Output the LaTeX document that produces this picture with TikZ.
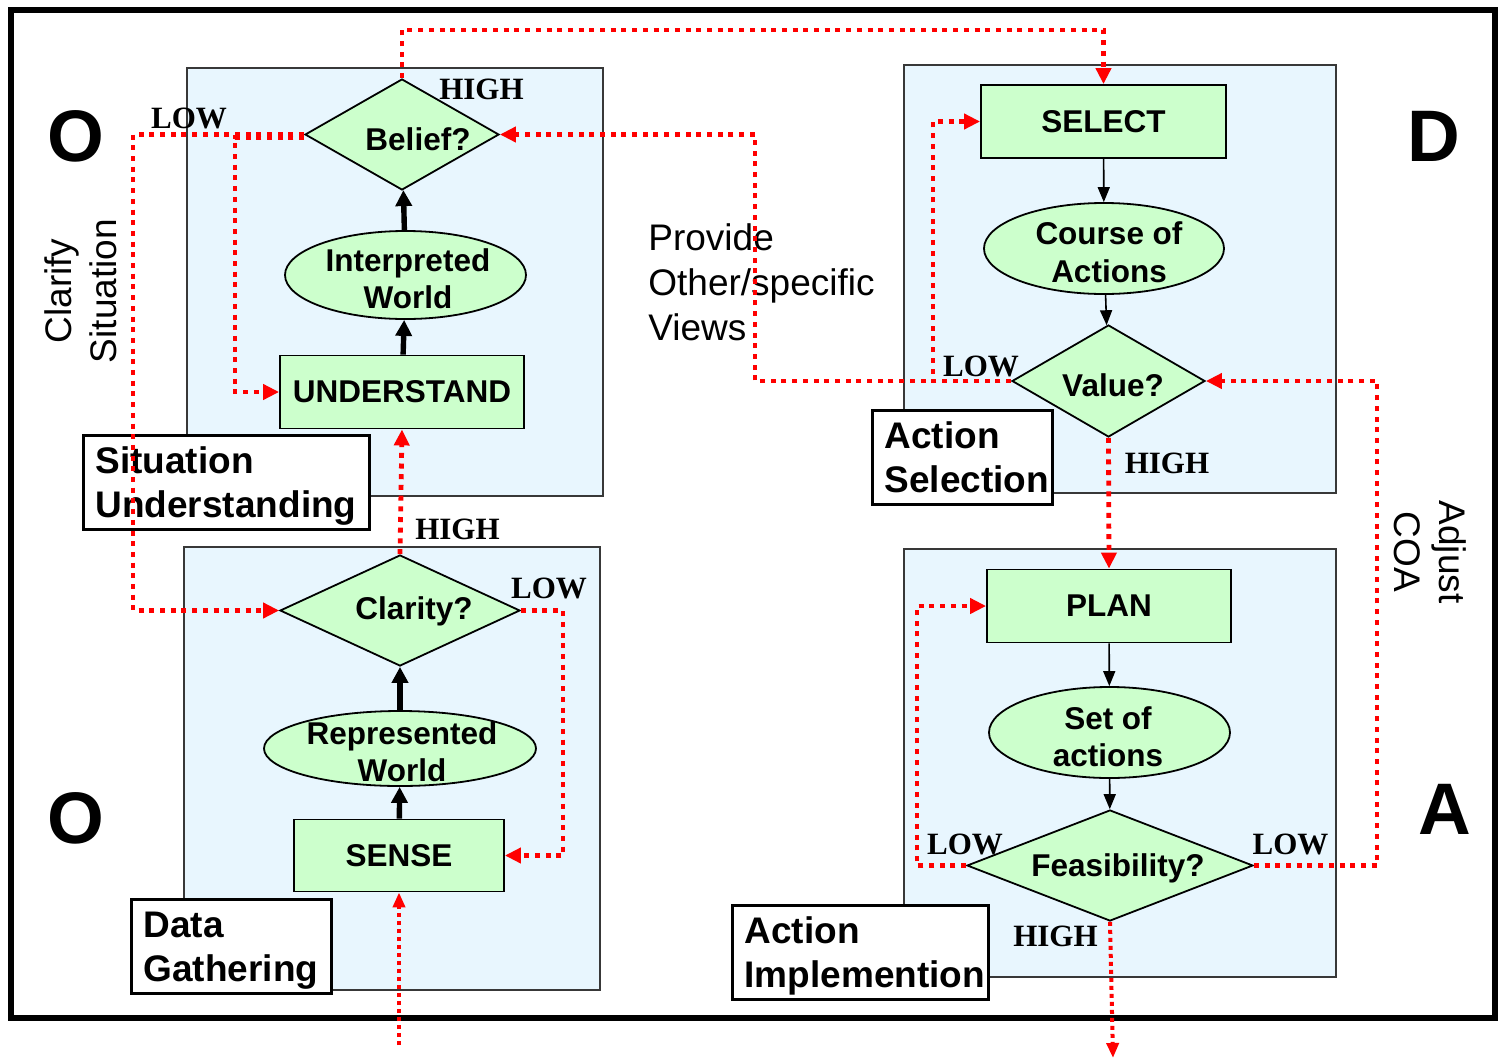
\documentclass[tikz,border=0pt]{standalone}
\usepackage{fontspec}
\setmainfont{Liberation Serif}
\setsansfont{Liberation Sans}
\usetikzlibrary{shapes.geometric,arrows.meta,calc}

\definecolor{panelblue}{HTML}{E8F6FE}
\definecolor{nodegreen}{HTML}{CCFFCC}
\definecolor{loopred}{HTML}{FF0000}
\definecolor{panelgray}{HTML}{383838}

% a little extra room above the first caption line
\newcommand\captop{\rule{0pt}{17pt}}

\begin{document}
\begin{tikzpicture}[x=0.5pt,y=-0.5pt,
  panel/.style={fill=panelblue,draw=panelgray,line width=1pt},
  stagebox/.style={rectangle,draw=black,line width=1.5pt,fill=white,anchor=north west,
    inner xsep=6pt,inner ysep=0pt,minimum height=47pt,align=left,
    font=\sffamily\bfseries\fontsize{18.5}{22}\selectfont},
  stepbox/.style={rectangle,draw=black,line width=0.9pt,fill=nodegreen,inner sep=0pt,
    font=\sffamily\bfseries\fontsize{15.75}{18.75}\selectfont},
  worldell/.style={ellipse,draw=black,line width=0.9pt,fill=nodegreen,inner sep=0pt},
  query/.style={diamond,draw=black,line width=0.9pt,fill=nodegreen,inner sep=0pt},
  ntext/.style={inner sep=0pt,align=center,font=\sffamily\bfseries\fontsize{15.75}{18.75}\selectfont},
  level/.style={inner sep=0pt,font=\rmfamily\bfseries\fontsize{15.5}{18}\selectfont},
  phase/.style={inner sep=0pt,font=\sffamily\bfseries\fontsize{36.5}{40}\selectfont},
  sidetext/.style={inner sep=0pt,align=center,font=\sffamily\fontsize{18.5}{22.5}\selectfont},
  heavy/.style={draw=black,line width=2.7pt,-{Triangle[length=8pt,width=8pt]}},
  light/.style={draw=black,line width=0.8pt,-{Triangle[length=7.5pt,width=6pt]}},
  flow/.style={draw=loopred,line width=2.4pt,dash pattern=on 2.5pt off 2.85pt,
    -{Triangle[length=8pt,width=7.5pt]}},
  flowthin/.style={draw=loopred,line width=2pt,dash pattern=on 2pt off 2pt,
    -{Triangle[length=7.5pt,width=6pt]}}
]
\useasboundingbox (0,0) rectangle (1501,1061);

% stage panels
\path[panel] (187,68) rectangle (603,496);
\path[panel] (184,547) rectangle (600,990);
\path[panel] (904,65) rectangle (1336,493);
\path[panel] (904,549) rectangle (1336,977);

% outer frame
\draw[line width=2.8pt] (11,10) rectangle (1495,1018);

% stage captions
\node[stagebox,text width=131pt] (situ) at (82,434) {\captop Situation\\Understanding};
\node[stagebox,text width=88pt] (datag) at (130,898) {\captop Data\\Gathering};
\node[stagebox,text width=78pt] (actsel) at (871,409) {Action\\Selection};
\node[stagebox,text width=116pt] (actimp) at (731,904) {\captop Action\\Implemention};

% observe: situation understanding
\node[stepbox,minimum width=122pt,minimum height=36.5pt] (understand) at (402,392) {UNDERSTAND};
\node[worldell,minimum width=120.5pt,minimum height=44pt] (interp) at (405.5,275) {};
\node[ntext] (interp-t) at (408,278.5) {Interpreted\\World};
\node[query,minimum width=97pt,minimum height=55.5pt] (belief) at (402,134.5) {};
\node[ntext] (belief-t) at (418,139) {Belief?};

% observe: data gathering
\node[stepbox,minimum width=105pt,minimum height=36pt] (sense) at (399,855.5) {SENSE};
\node[worldell,minimum width=136pt,minimum height=37.5pt] (repr) at (400,748.5) {};
\node[ntext] (repr-t) at (402,751.5) {Represented\\World};
\node[query,minimum width=120pt,minimum height=55.5pt] (clarity) at (400,610.5) {};
\node[ntext] (clarity-t) at (414,611) {Clarity?};

% decide: action selection
\node[stepbox,minimum width=122.5pt,minimum height=36.5pt] (select) at (1103.5,121.5) {SELECT};
\node[worldell,minimum width=120pt,minimum height=45.5pt] (course) at (1104,248.5) {};
\node[ntext] (course-t) at (1109,252) {Course of\\Actions};
\node[query,minimum width=96.5pt,minimum height=56pt] (value) at (1108.5,381) {};
\node[ntext] (value-t) at (1113,385) {Value?};

% act: action implementation
\node[stepbox,minimum width=122pt,minimum height=36.5pt] (plan) at (1109,606) {PLAN};
\node[worldell,minimum width=120.5pt,minimum height=45.5pt] (setact) at (1109.5,732.5) {};
\node[ntext] (setact-t) at (1108,736.5) {Set of\\actions};
\node[query,minimum width=143pt,minimum height=55.5pt] (feas) at (1110,865.5) {};
\node[ntext] (feas-t) at (1118,868) {Feasibility?};

% phase letters and side notes
\node[phase] (o-top) at (75.5,136) {O};
\node[phase] (o-bottom) at (75.5,818) {O};
\node[phase] (d-top) at (1434,136) {D};
\node[phase] (a-bottom) at (1444.5,809.5) {A};
\node[sidetext,rotate=90] (clarify) at (80.5,291) {Clarify\\Situation};
\node[sidetext,rotate=-90] (adjust) at (1430.5,552) {Adjust\\COA};
\node[sidetext,anchor=west,align=left] (provide) at (648,282) {Provide\\Other/specific\\Views};

% forward flow inside each stage
\draw[heavy] (understand) -- (interp);
\draw[heavy] (interp) -- (belief);
\draw[heavy] (sense) -- (repr);
\draw[heavy] (repr) -- (clarity);
\draw[light] (select) -- (course);
\draw[light] (course) -- (value);
\draw[light] (plan) -- (setact);
\draw[light] (setact) -- (feas);

% turning points of the feedback loops
\coordinate (clarifyx) at (133,0);
\coordinate (understandx) at (235,0);
\coordinate (topy) at (0,30);
\coordinate (providex) at (755,0);
\coordinate (selectx) at (933,0);
\coordinate (adjustx) at (1377,0);
\coordinate (planx) at (917,0);
\coordinate (sensex) at (563,0);
\coordinate (datain) at (399,1045);
\coordinate (actout) at (1113,1058);

% decision outcomes
\draw[flow] (belief.north) -- (belief.north |- topy) -| (select.north);
\draw[flow] (belief.west) -- (belief.west -| clarifyx) |- (clarity.west);
\draw[flow] ([yshift=-1.5pt]belief.west) -| (understand.west -| understandx) -- (understand.west);
\draw[flow] (value.west) -- (value.west -| providex) |- (belief.east);
\draw[flow] (value.west) -- (value.west -| selectx) |- (select.west);
\draw[flow] (value.south) -- (plan.north);
\draw[flow] (feas.east) -- (feas.east -| adjustx) |- (value.east);
\draw[flow] (feas.west) -- (feas.west -| planx) |- (plan.west);
\draw[flowthin] (feas.south) -- (actout);
\draw[flow] (clarity.north) -- (understand.south);
\draw[flow] (clarity.east) -- (clarity.east -| sensex) |- (sense.east);
\draw[flowthin] (datain) -- (sense.south);

% outcome levels
\node[level] (hi-belief) at (481.5,89) {HIGH};
\node[level] (lo-belief) at (189,118) {LOW};
\node[level] (hi-clarity) at (457.5,529.5) {HIGH};
\node[level] (lo-clarity) at (549,588) {LOW};
\node[level] (lo-value) at (981,366.5) {LOW};
\node[level] (hi-value) at (1167,463) {HIGH};
\node[level] (lo-feas-l) at (965,844) {LOW};
\node[level] (lo-feas-r) at (1290.5,844) {LOW};
\node[level] (hi-feas) at (1055.5,936.5) {HIGH};
\end{tikzpicture}
\end{document}
